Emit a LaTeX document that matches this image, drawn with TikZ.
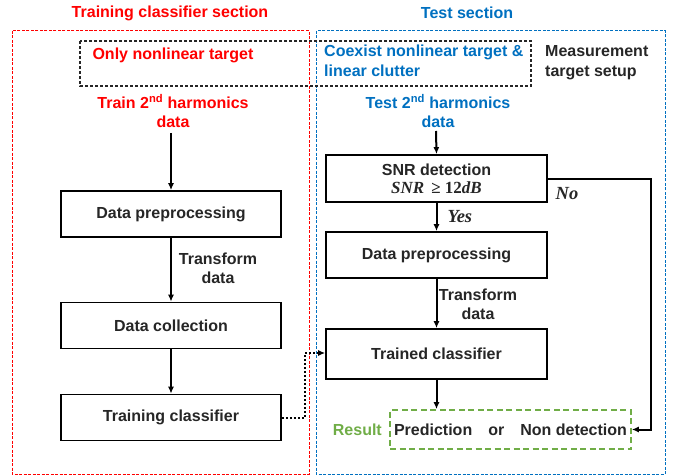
\documentclass[tikz,border=0pt]{standalone}
\usepackage{fontspec}
\setmainfont{Liberation Sans}
\newfontfamily\serifm{Liberation Serif}
\usetikzlibrary{arrows.meta}
\definecolor{tred}{RGB}{255,0,0}
\definecolor{tblue}{RGB}{0,112,192}
\definecolor{tgreen}{RGB}{112,173,71}
\definecolor{tdark}{RGB}{38,38,38}
\begin{document}
\begin{tikzpicture}[x=1pt,y=-1pt,
  every node/.style={font=\fontsize{16}{19}\selectfont\bfseries, text=tdark, inner sep=0pt},
  procbox/.style={draw=black, line width=1.7pt, fill=white},
  flow/.style={draw=black, line width=2pt, -{Latex[length=7pt,width=6pt]}},
  sect/.style={line width=1pt, dash pattern=on 3pt off 1.5pt},
  lbl/.style={align=center},
  italserif/.style={font=\fontsize{18.5}{20}\selectfont\serifm\bfseries\itshape}
]
\useasboundingbox (0,0) rectangle (677,476);
% section frames
\draw[sect, draw=tred] (12,31) rectangle (309,474);
\draw[sect, draw=tblue] (316,31) rectangle (665,474);
\draw[black!85, line width=1.3pt, dash pattern=on 3pt off 2pt] (80,41) rectangle (531,86);
% titles
\node[text=tred] (ttrain) at (170,13) {Training classifier section};
\node[text=tblue] (ttest) at (467,13) {Test section};
\node[text=tred] (only) at (173,55) {Only nonlinear target};
\node[text=tblue, align=left, anchor=north west, font=\fontsize{16}{20}\selectfont\bfseries] (coex) at (324,45) {Coexist nonlinear target \&\\linear clutter};
\node[align=left, anchor=north west, font=\fontsize{16}{20}\selectfont\bfseries] (meas) at (545,45) {Measurement\\target setup};
\node[text=tred, lbl] (traind) at (173,111) {Train 2\textsuperscript{nd} harmonics\\data};
\node[text=tblue, lbl] (testd) at (438,111) {Test 2\textsuperscript{nd} harmonics\\data};
% left column
\node[procbox, minimum width=220pt, minimum height=46pt] (lpre) at (171,214) {Data preprocessing};
\node[procbox, minimum width=220pt, minimum height=46pt] (lcol) at (171,325.5) {Data collection};
\node[procbox, minimum width=220pt, minimum height=46pt] (ltrain) at (171,417.5) {Training classifier};
\coordinate (lstart) at (171,133);
\draw[flow] (lstart) -- (lpre.north);
\draw[flow] (lpre.south) -- (lcol.north);
\draw[flow] (lcol.south) -- (ltrain.north);
\node[lbl] (ltrans) at (218,268) {Transform\\data};
% right column
\node[procbox, minimum width=221pt, minimum height=47pt, align=center] (snr) at (436.5,178.5) {SNR detection\\[-1pt]{\fontsize{17}{19}\selectfont\serifm\itshape SNR\,}{\fontsize{17}{19}\selectfont\serifm\ ≥\ 12}{\fontsize{17}{19}\selectfont\serifm\itshape dB}};
\node[procbox, minimum width=221pt, minimum height=46pt] (rpre) at (436.5,255) {Data preprocessing};
\node[procbox, minimum width=221pt, minimum height=50pt] (trained) at (436.5,354) {Trained classifier};
\node[draw=tgreen, line width=1.6pt, dash pattern=on 6pt off 3.5pt, minimum width=241pt, minimum height=39pt] (res) at (510.5,429.5) {Prediction\hspace{1em}or\hspace{1em}Non detection};
\node[text=tgreen, anchor=east] (reslbl) at (382,430) {Result};
\coordinate (rstart) at (436,131);
\draw[flow] (rstart) -- (snr.north);
\draw[flow] (snr.south) -- node[right=10pt, italserif] (yes) {Yes} (rpre.north);
\draw[flow] (rpre.south) -- (trained.north);
\node[lbl] (rtrans) at (478,304) {Transform\\data};
\draw[flow] (trained.south) -- (trained.south |- res.north);
\coordinate (nocorner1) at (651,179);
\coordinate (nocorner2) at (651,429.5);
\draw[flow] (snr.east |- nocorner1) -- (nocorner1) -- (nocorner2) -- (res.east);
\node[italserif] (no) at (567,194) {No};
% dotted link
\coordinate (d1) at (305,417.5);
\coordinate (d2) at (305,353);
\draw[line width=2pt, dash pattern=on 2pt off 2pt, -{Latex[length=7pt,width=6pt]}] (ltrain.east) -- (d1) -- (d2) -- (trained.west |- d2);
\end{tikzpicture}
\end{document}
